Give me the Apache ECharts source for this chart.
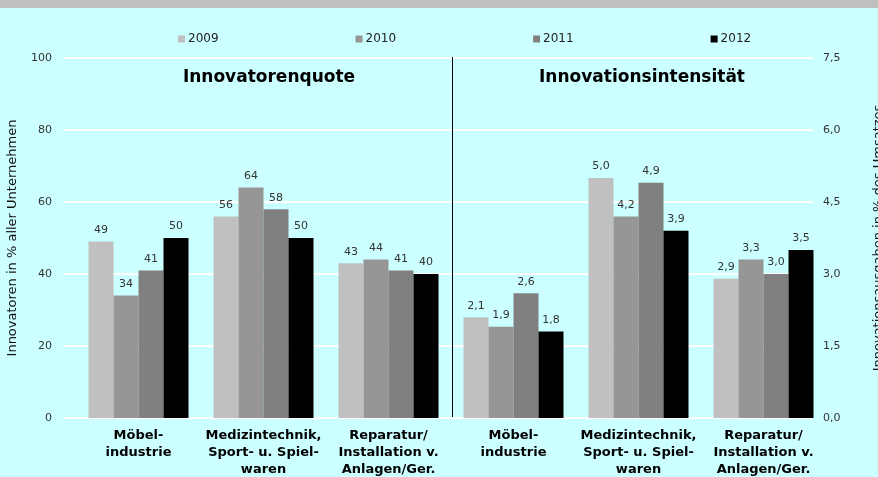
<!DOCTYPE html>
<html>
<head>
<meta charset="utf-8">
<script src="https://cdn.jsdelivr.net/npm/echarts@6/dist/echarts.min.js"></script>
<style>
  html, body { margin: 0; padding: 0; background: #ccffff; }
  #chart { width: 878px; height: 477px; }
</style>
</head>
<body>
<div id="chart"></div>
<script>
// categories (left half: Innovatorenquote, right half: Innovationsintensität)
const categories = [
  'Möbel-\nindustrie',
  'Medizintechnik,\nSport- u. Spiel-\nwaren',
  'Reparatur/\nInstallation v.\nAnlagen/Ger.',
  'Möbel-\nindustrie',
  'Medizintechnik,\nSport- u. Spiel-\nwaren',
  'Reparatur/\nInstallation v.\nAnlagen/Ger.'
]
const years = ['2009', '2010', '2011', '2012']
const yearColors = ['#c0c0c0', '#969696', '#808080', '#000000']

// Innovatoren in % aller Unternehmen
const quote2009 = [49, 56, 43]
const quote2010 = [34, 64, 44]
const quote2011 = [41, 58, 41]
const quote2012 = [50, 50, 40]

// Innovationsausgaben in % des Umsatzes
const intens2009 = [2.1, 5.0, 2.9]
const intens2010 = [1.9, 4.2, 3.3]
const intens2011 = [2.6, 4.9, 3.0]
const intens2012 = [1.8, 3.9, 3.5]

const quote = [quote2009, quote2010, quote2011, quote2012]
const intens = [intens2009, intens2010, intens2011, intens2012]

const comma = v => Number(v).toFixed(1).replace('.', ',')
const tickFont = { fontFamily: 'DejaVu Sans', fontSize: 11, color: '#333' }

const chart = echarts.init(document.getElementById('chart'))

const series = []
years.forEach(function (y, i) {
  series.push({
    name: y,
    type: 'bar',
    xAxisIndex: 1,
    yAxisIndex: 2,
    stack: y,
    barWidth: 25,
    barGap: '0%',
    itemStyle: { color: yearColors[i] },
    label: { show: true, position: 'top', distance: 6, ...tickFont },
    data: quote[i].concat(['-', '-', '-'])
  })
  series.push({
    name: y,
    type: 'bar',
    xAxisIndex: 1,
    yAxisIndex: 3,
    stack: y,
    barWidth: 25,
    barGap: '0%',
    itemStyle: { color: yearColors[i] },
    label: { show: true, position: 'top', distance: 6, ...tickFont, formatter: p => comma(p.value) },
    data: ['-', '-', '-'].concat(intens[i])
  })
})

chart.setOption({
  backgroundColor: '#ccffff',
  animation: false,
  title: [
    {
      text: 'Innovatorenquote', left: 264, top: 64, textAlign: 'center',
      textStyle: { fontFamily: 'DejaVu Sans', fontSize: 17, fontWeight: 'bold', color: '#000' }
    },
    {
      text: 'Innovationsintensität', left: 637, top: 64, textAlign: 'center',
      textStyle: { fontFamily: 'DejaVu Sans', fontSize: 17, fontWeight: 'bold', color: '#000' }
    }
  ],
  legend: {
    data: years,
    left: 173,
    top: 28,
    icon: 'rect',
    itemWidth: 7,
    itemHeight: 7,
    itemGap: 137,
    textStyle: { fontFamily: 'DejaVu Sans', fontSize: 12, color: '#222', padding: [0, 0, 0, -2] }
  },
  grid: [
    { left: 63, right: 65, top: 58, bottom: 59, outerBoundsMode: 'none', containLabel: false },
    { left: 76, right: 52, top: 58, bottom: 59, outerBoundsMode: 'none', containLabel: false }
  ],
  xAxis: [
    { type: 'category', gridIndex: 0, data: categories, show: false },
    {
      type: 'category', gridIndex: 1, data: categories,
      axisLine: { show: false }, axisTick: { show: false },
      axisLabel: {
        margin: 9, interval: 0, fontFamily: 'DejaVu Sans', fontSize: 13,
        fontWeight: 'bold', color: '#000', lineHeight: 17
      }
    }
  ],
  yAxis: [
    {
      type: 'value', gridIndex: 0, position: 'left', min: 0, max: 100, interval: 20,
      axisLine: { show: false }, axisTick: { show: false },
      axisLabel: { margin: 11, ...tickFont },
      splitLine: { lineStyle: { color: '#ffffff', width: 2 } },
      name: 'Innovatoren in % aller Unternehmen',
      nameLocation: 'middle', nameGap: 44,
      nameTextStyle: { fontFamily: 'DejaVu Sans', fontSize: 13, color: '#111' }
    },
    {
      type: 'value', gridIndex: 0, position: 'right', min: 0, max: 7.5, interval: 1.5,
      axisLine: { show: false }, axisTick: { show: false },
      axisLabel: { margin: 10, ...tickFont, formatter: comma },
      splitLine: { show: false },
      name: 'Innovationsausgaben in % des Umsatzes',
      nameLocation: 'middle', nameGap: 59,
      nameTextStyle: { fontFamily: 'DejaVu Sans', fontSize: 13, color: '#111' }
    },
    { type: 'value', gridIndex: 1, min: 0, max: 100, show: false },
    { type: 'value', gridIndex: 1, min: 0, max: 7.5, show: false }
  ],
  graphic: [
    { type: 'rect', z: 100, shape: { x: 0, y: 0, width: 878, height: 8 }, style: { fill: '#c0c0c0' } },
    { type: 'line', z: 100, shape: { x1: 452.5, y1: 57, x2: 452.5, y2: 417 }, style: { stroke: '#000', lineWidth: 1 } }
  ],
  series: series
})
</script>
</body>
</html>
